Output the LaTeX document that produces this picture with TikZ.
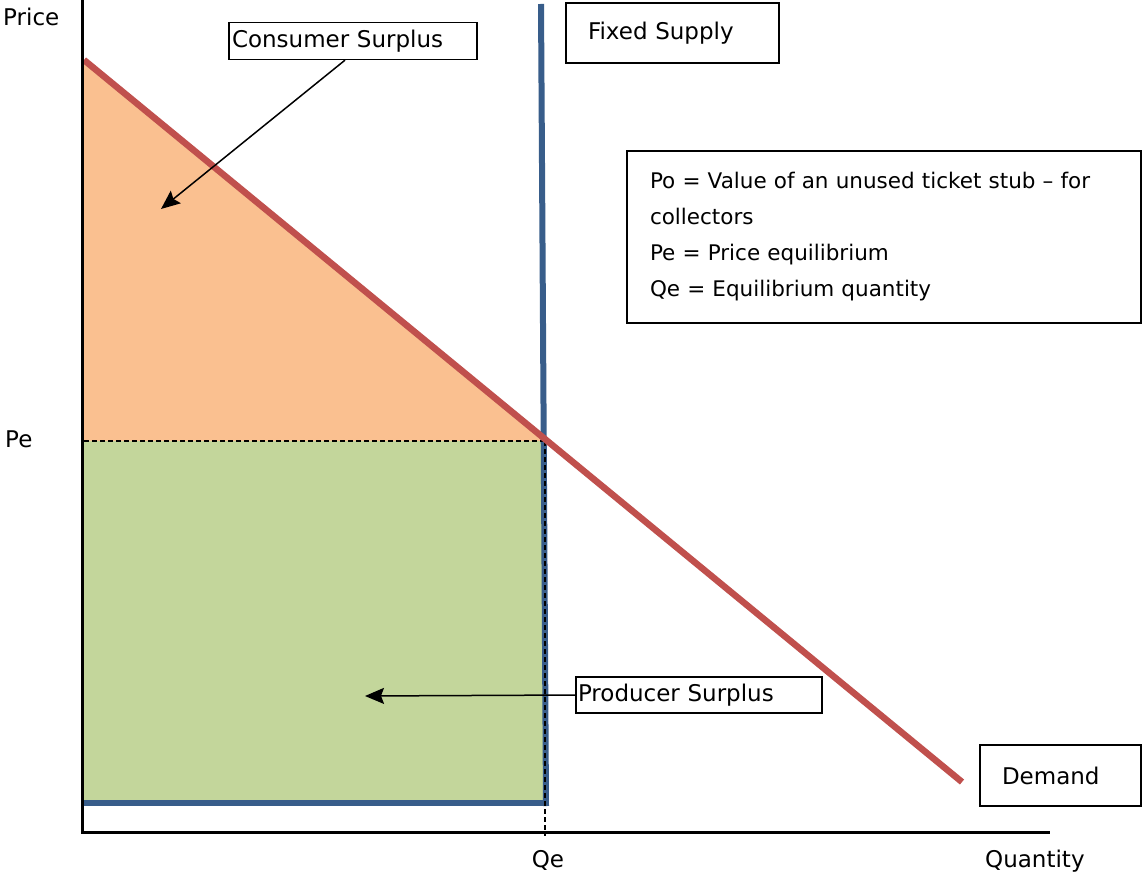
\documentclass[tikz,border=0pt]{standalone}
\usepackage{fontspec}
\setmainfont{DejaVu Sans}
\usetikzlibrary{arrows.meta}
\definecolor{csfill}{HTML}{FAC090}
\definecolor{psfill}{HTML}{C3D69B}
\definecolor{demandred}{HTML}{C0504D}
\definecolor{supplyblue}{HTML}{385D8A}
\begin{document}
\begin{tikzpicture}[x=1pt,y=-1pt,
  lblfont/.style={font=\fontsize{23}{27}\selectfont},
  boxlbl/.style={draw=black, line width=1.3pt, lblfont, inner ysep=0pt, align=left},
  plain/.style={lblfont, inner sep=0pt},
  dashln/.style={black, line width=1.3pt, dash pattern=on 5pt off 3pt},
  pointer/.style={black, line width=1.5pt, -{Stealth[length=19pt,width=16pt,inset=3pt]}}]
\useasboundingbox (0,0) rectangle (1142,877);
% coordinates
\coordinate (ytop) at (82,0);
\coordinate (orig) at (82,832);
\coordinate (xend) at (1050,832);
\coordinate (dtop) at (84,60);
\coordinate (dend) at (962,782);
\coordinate (eq) at (543,441);
\coordinate (pe) at (84,441);
\coordinate (stop) at (541,4);
\coordinate (sbot) at (546,806);
\coordinate (qlow) at (545,836);
% areas
\fill[csfill] (dtop) -- (eq) -- (pe) -- cycle;
\fill[psfill] (pe) rectangle (544,803);
% supply
\draw[supplyblue, line width=6pt] (stop) -- (sbot);
\draw[supplyblue, line width=6pt] (84,803) -- (546,803);
% dashed guides
\draw[dashln] (pe) -- (eq);
\draw[dashln] (545,441) -- (qlow);
% demand
\draw[demandred, line width=6.5pt] (dtop) -- (dend);
% axes
\draw[black, line width=3pt] (ytop) -- (orig) -- (xend);
% axis labels
\node[plain, anchor=base west] (price) at (3,26) {Price};
\node[plain, anchor=base west] (pelbl) at (5,447) {Pe};
\node[plain, anchor=base] (qelbl) at (548,867) {Qe};
\node[plain, anchor=base west] (qty) at (985,867) {Quantity};
% boxes
\node[boxlbl, inner xsep=3pt, text width=242pt, minimum height=37pt] (cs) at (353,41) {Consumer Surplus};
\node[boxlbl, inner xsep=22pt, text width=169pt, minimum height=60pt] (fs) at (672.5,33) {Fixed Supply};
\node[boxlbl, inner xsep=23pt, text width=468pt, minimum height=172pt, font=\fontsize{21.5}{36}\selectfont] (legend) at (884,237)
  {Po = Value of an unused ticket stub -- for\\collectors\\Pe = Price equilibrium\\Qe = Equilibrium quantity};
\node[boxlbl, inner xsep=2pt, text width=242pt, minimum height=36pt] (ps) at (699,695) {Producer Surplus};
\node[boxlbl, inner xsep=22pt, text width=117pt, minimum height=61pt] (dem) at (1060.5,775.5) {Demand};
% pointers
\coordinate (cstip) at (161,209);
\coordinate (pstip) at (365,696);
\draw[pointer] (cs.south) ++(-8,0) coordinate (csfoot) -- (cstip);
\draw[pointer] (ps.west) -- (pstip);
\end{tikzpicture}
\end{document}
